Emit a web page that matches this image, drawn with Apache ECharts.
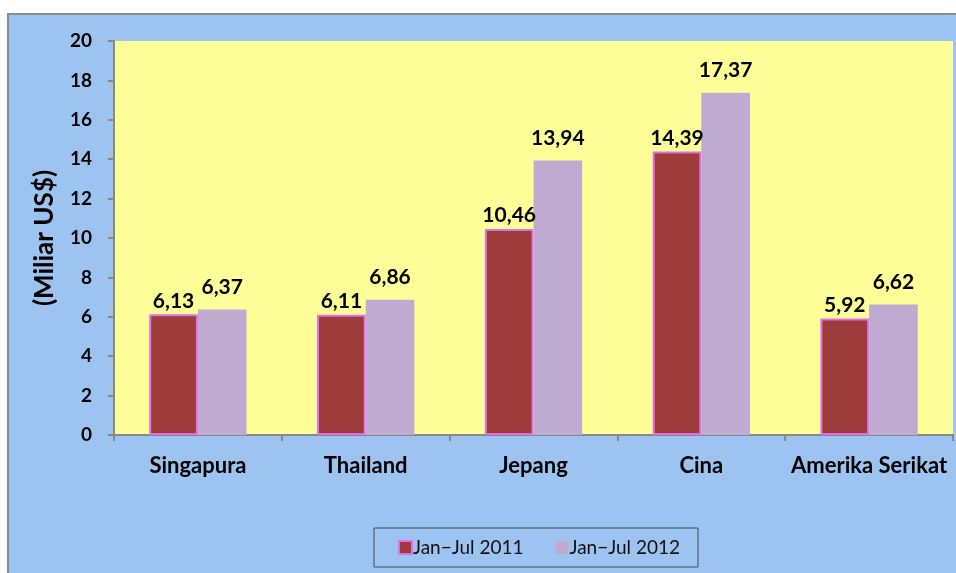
<!DOCTYPE html>
<html>
<head>
<meta charset="utf-8">
<script src="https://cdn.jsdelivr.net/npm/echarts@6/dist/echarts.min.js"></script>
<style>
html, body { margin: 0; padding: 0; background: #fff; }
#main { width: 956px; height: 573px; }
</style>
</head>
<body>
<div id="main"></div>
<script>
// data
var categories = ['Singapura', 'Thailand', 'Jepang', 'Cina', 'Amerika Serikat'];
var seriesNames = ['Jan\u2212Jul 2011', 'Jan\u2212Jul 2012'];
var values2011 = [6.13, 6.11, 10.46, 14.39, 5.92];
var values2012 = [6.37, 6.86, 13.94, 17.37, 6.62];

var font = 'Lato, "Open Sans", sans-serif';

function fmt(p) {
	return p.value.toFixed(2).replace('.', ',');
}

var chart = echarts.init(document.getElementById('main'));
chart.setOption({
	animation: false,
	backgroundColor: '#fff',
	graphic: [{
		type: 'rect',
		left: 7, top: 13,
		shape: { width: 960, height: 570 },
		style: { fill: '#9DC3F0', stroke: '#8a8a8a', lineWidth: 2 },
		z: -10
	}],
	grid: {
		left: 114, right: 3, top: 41, bottom: 138,
		show: true, backgroundColor: '#FFFF99', borderWidth: 0
	},
	legend: {
		bottom: 6, left: 374,
		icon: 'rect', itemWidth: 13, itemHeight: 13, itemGap: 32,
		borderColor: '#3a4a5a', borderWidth: 1,
		padding: [10, 18, 10, 24],
		textStyle: { fontFamily: font, fontSize: 19, color: '#111', padding: [0, 0, 0, -4] },
		data: seriesNames
	},
	xAxis: {
		type: 'category',
		data: categories,
		axisLine: { lineStyle: { color: '#888', width: 2 } },
		axisTick: { show: true, length: 6, lineStyle: { color: '#888', width: 2 } },
		axisLabel: { interval: 0, fontFamily: font, fontWeight: 'bold', fontSize: 22, color: '#000', margin: 20 }
	},
	yAxis: {
		type: 'value',
		min: 0, max: 20, interval: 2,
		name: '(Miliar US$)',
		nameLocation: 'middle',
		nameGap: 56,
		nameRotate: 90,
		nameTextStyle: { fontFamily: font, fontWeight: 'bold', fontSize: 26, color: '#000' },
		splitLine: { show: false },
		axisLine: { show: true, lineStyle: { color: '#888', width: 2 } },
		axisTick: { show: true, length: 6, lineStyle: { color: '#888', width: 2 } },
		axisLabel: { fontFamily: font, fontWeight: 'bold', fontSize: 19, color: '#000', margin: 22 }
	},
	series: [{
		name: seriesNames[0],
		type: 'bar',
		data: values2011,
		barGap: '0%',
		barCategoryGap: '42%',
		itemStyle: { color: '#9E3B3B', borderColor: '#E070E8', borderWidth: 2 },
		label: {
			show: true, position: 'top', distance: 3, formatter: fmt,
			fontFamily: font, fontWeight: 'bold', fontSize: 21, color: '#000'
		}
	}, {
		name: seriesNames[1],
		type: 'bar',
		data: values2012,
		itemStyle: { color: '#BFABD2' },
		label: {
			show: true, position: 'top', distance: 12, formatter: fmt,
			fontFamily: font, fontWeight: 'bold', fontSize: 21, color: '#000'
		}
	}]
});
</script>
</body>
</html>
